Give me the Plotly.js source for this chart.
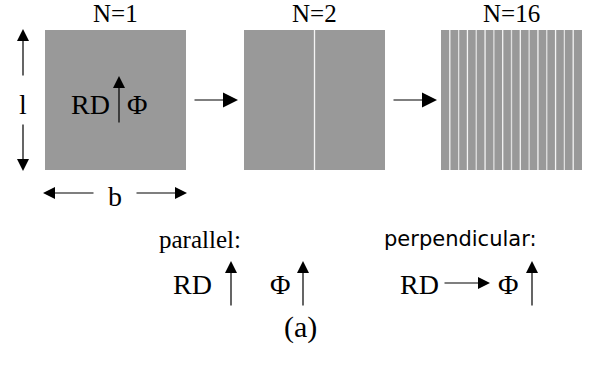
<!DOCTYPE html>
<html>
<head>
<meta charset="utf-8">
<script src="https://cdn.plot.ly/plotly-3.0.1.min.js"></script>
<style>html,body{margin:0;padding:0;background:#fff;}#chart{width:590px;height:370px;}</style>
</head>
<body>
<div id="chart"></div>
<script>
// ---- data ----
const panelN = [1, 2, 16];
const panelTitles = ["N=1", "N=2", "N=16"];
const dimLabels = ["l", "b"];
const insideLabels = ["RD", "Φ"];
const caseTitles = ["parallel:", "perpendicular:"];
const caseLabels = [["RD", "Φ"], ["RD", "Φ"]];
const figLabel = "(a)";

// ---- layout constants ----
const panelLeft = [45, 244, 441];
const panelW = 141, panelTop = 30, panelBot = 170;
const gray = "#999999";
const serif = "Liberation Serif";

const shapes = [];
const annotations = [];

function arrow(x0, y0, x1, y1, opts) {
  opts = opts || {};
  annotations.push({
    x: x1, y: y1, ax: x0, ay: y0, xref: "x", yref: "y", axref: "x", ayref: "y",
    text: "", showarrow: true, arrowhead: 2, arrowsize: opts.size || 2.0,
    arrowwidth: opts.width || 1.2, arrowcolor: "#000", standoff: 0, startstandoff: 0
  });
}
function txt(x, y, t, size, font) {
  annotations.push({
    x: x, y: y, xref: "x", yref: "y", text: t, showarrow: false,
    font: {family: font || serif, size: size, color: "#000"},
    xanchor: "center", yanchor: "middle"
  });
}

panelN.forEach(function (n, i) {
  const x0 = panelLeft[i];
  shapes.push({type: "rect", xref: "x", yref: "y", x0: x0, x1: x0 + panelW, y0: panelTop, y1: panelBot,
    fillcolor: gray, line: {width: 0}, layer: "below"});
  for (let k = 1; k < n; k++) {
    const xs = x0 + panelW * k / n;
    shapes.push({type: "line", xref: "x", yref: "y", x0: xs, x1: xs, y0: panelTop, y1: panelBot,
      line: {color: k % 2 ? "#f4f4f4" : "#e0e0e0", width: 1.3}});
  }
  txt(x0 + panelW / 2, 13, panelTitles[i], 25);
});

// arrows between panels
arrow(193, 100, 238, 100, {size: 2.5});
arrow(392, 100, 437, 100, {size: 2.5});

// dimension arrows
arrow(23, 77, 23, 29);
arrow(23, 123, 23, 171);
txt(23, 104, dimLabels[0], 28);
arrow(95, 193, 43, 193);
arrow(135, 193, 187, 193);
txt(115, 196, dimLabels[1], 28);

// inside first panel
txt(90, 104, insideLabels[0], 28);
arrow(119, 124, 119, 76);
txt(137, 104, insideLabels[1], 28);

// cases
txt(200, 239, caseTitles[0], 25);
txt(460, 239, caseTitles[1], 21, "DejaVu Sans");
// parallel
txt(192, 284, caseLabels[0][0], 28);
arrow(231, 307, 231, 261);
txt(280, 284, caseLabels[0][1], 28);
arrow(303, 307, 303, 261);
// perpendicular
txt(419, 284, caseLabels[1][0], 28);
arrow(443, 283, 490, 283);
txt(508, 284, caseLabels[1][1], 28);
arrow(532, 307, 532, 261);

txt(300, 327, figLabel, 30);

const layout = {
  width: 590, height: 370,
  margin: {l: 0, r: 0, t: 0, b: 0},
  paper_bgcolor: "#fff", plot_bgcolor: "#fff",
  xaxis: {range: [0, 590], visible: false, fixedrange: true},
  yaxis: {range: [370, 0], visible: false, fixedrange: true},
  shapes: shapes, annotations: annotations, showlegend: false
};
Plotly.newPlot("chart", [{x: [], y: [], type: "scatter"}], layout, {staticPlot: true, displayModeBar: false});
</script>
</body>
</html>
